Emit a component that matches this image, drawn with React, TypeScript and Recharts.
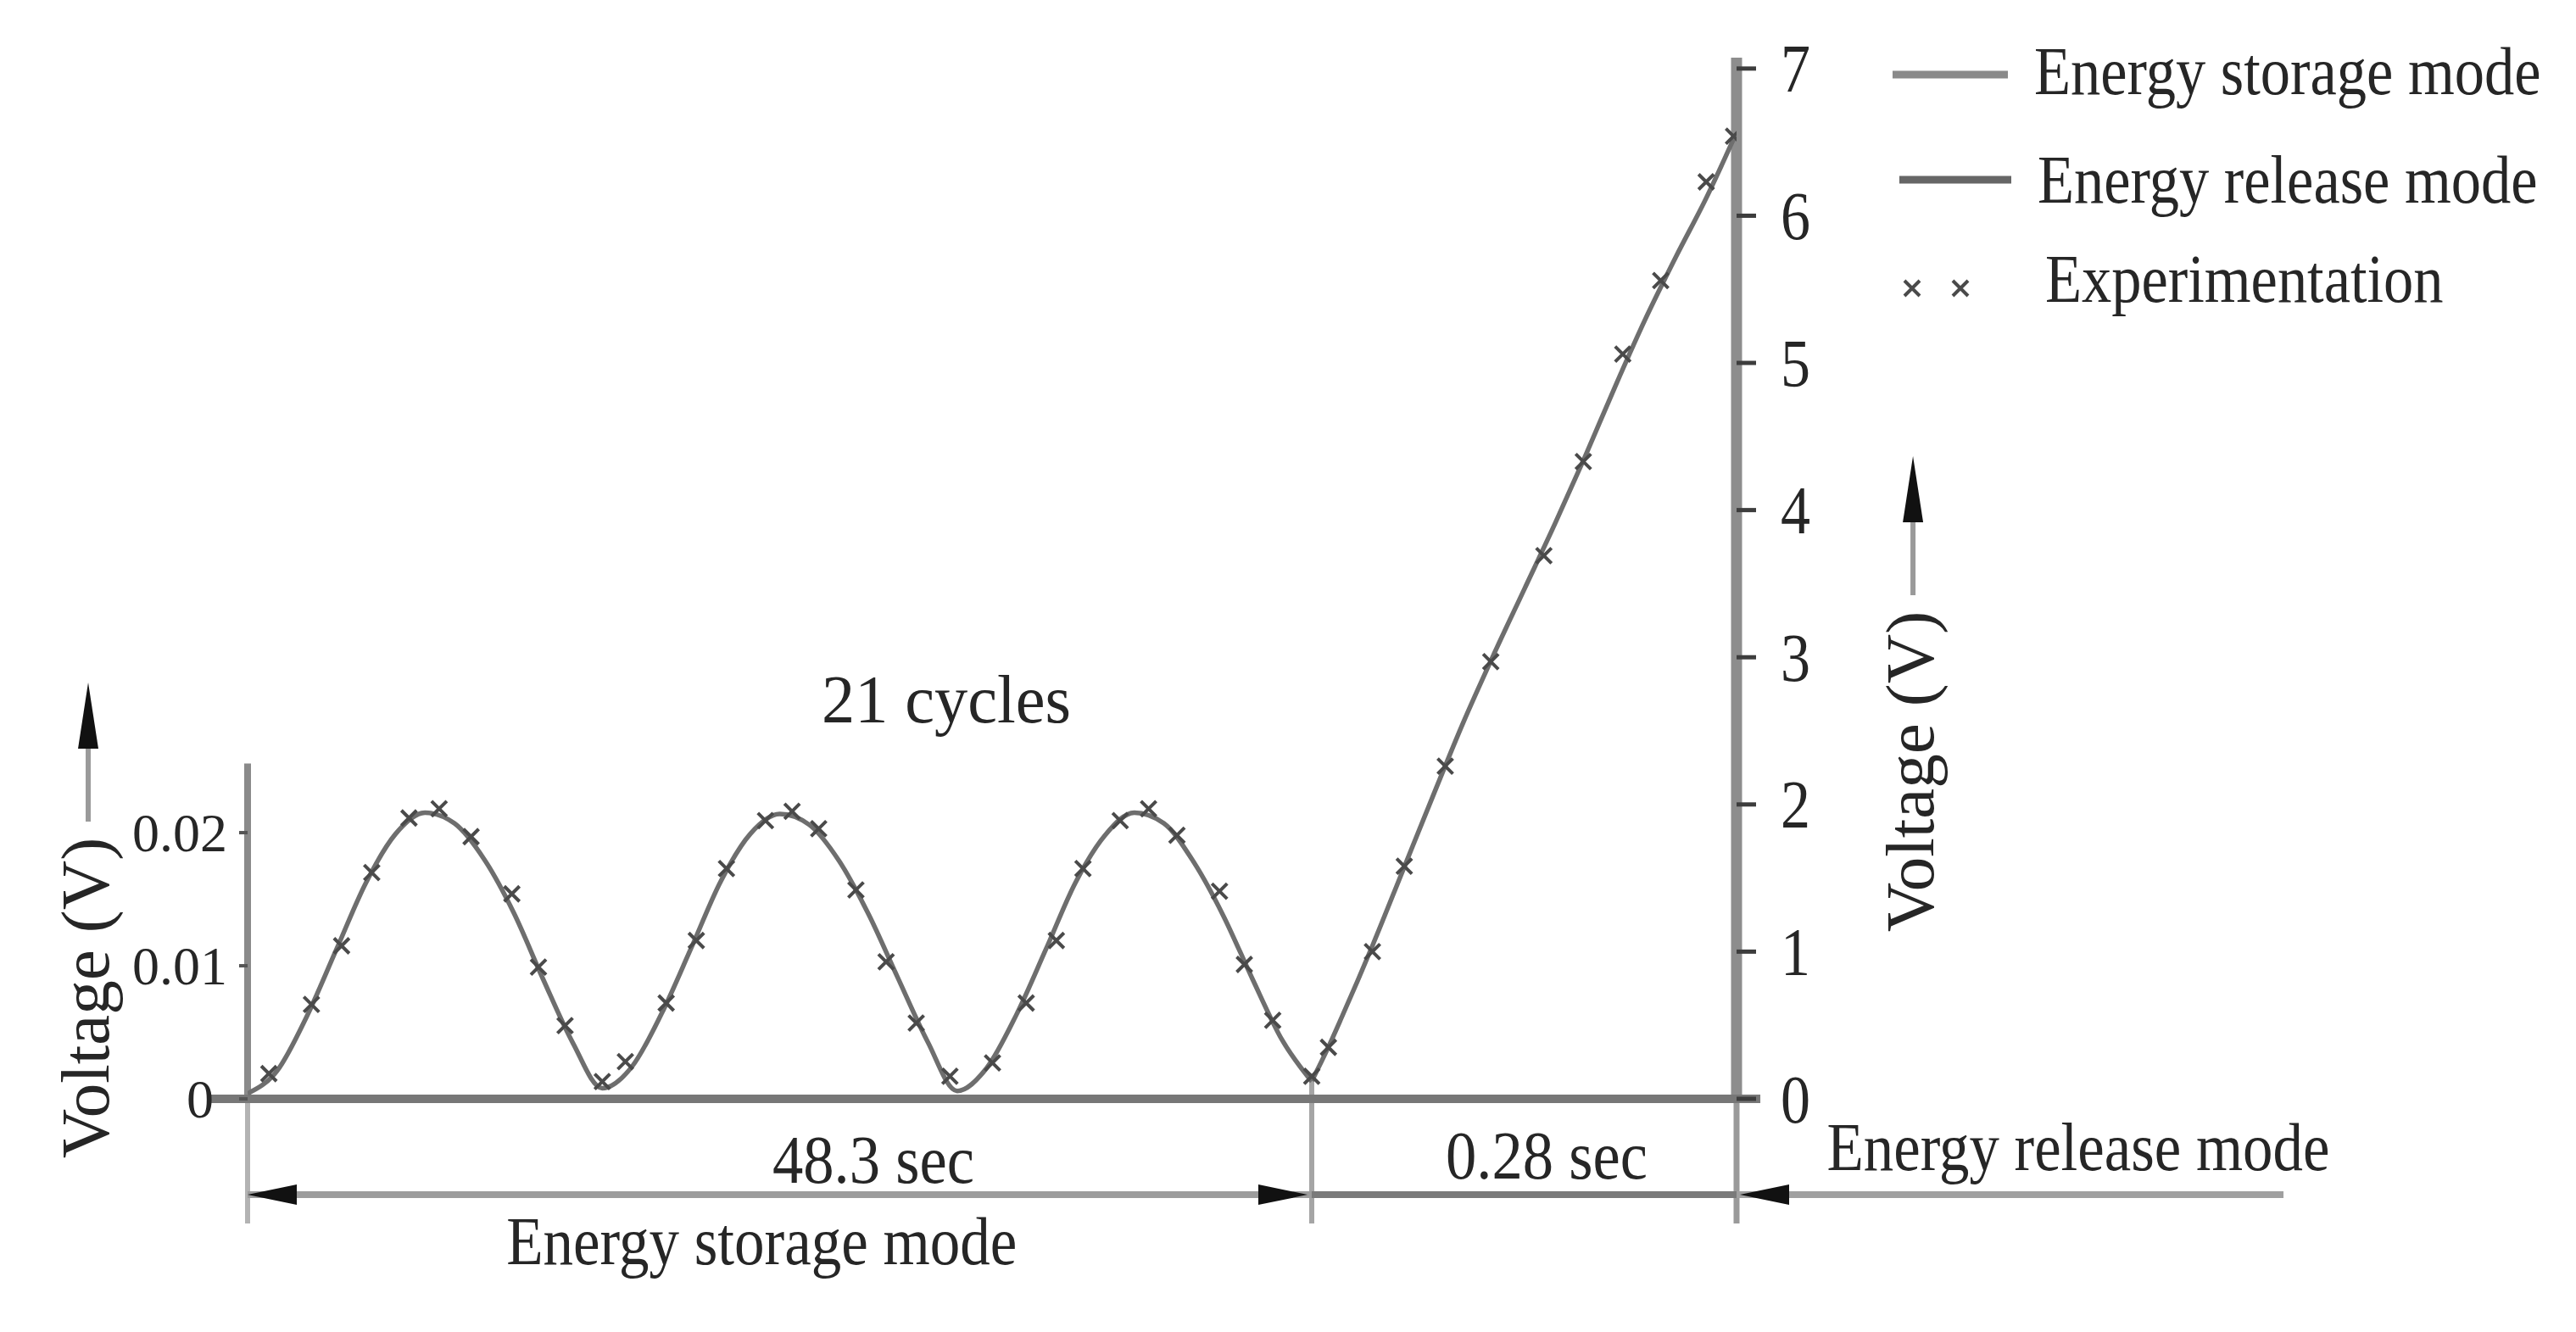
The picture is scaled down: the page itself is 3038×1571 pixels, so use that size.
import { ComposedChart, Line, XAxis, YAxis, ReferenceLine, ReferenceDot, Legend } from 'recharts'

// storage mode: x in drawn cycles (3 of the 21 are shown), y in volts (left axis)
const storageT = [
  0, 0.083, 0.167, 0.25, 0.333, 0.417, 0.5, 0.583, 0.667, 0.75, 0.833, 0.917, 1.0,
  1.083, 1.167, 1.25, 1.333, 1.417, 1.5, 1.583, 1.667, 1.75, 1.833, 1.917, 2.0,
  2.083, 2.167, 2.25, 2.333, 2.417, 2.5, 2.583, 2.667, 2.75, 2.833, 2.917, 3.0,
]
const storageV = [
  0.0004, 0.0021, 0.0062, 0.0112, 0.0162, 0.0199, 0.0215, 0.0207, 0.018, 0.014, 0.009, 0.0042, 0.0008,
  0.0024, 0.0064, 0.0113, 0.0163, 0.0199, 0.0214, 0.0206, 0.0179, 0.0139, 0.0091, 0.0043, 0.0006,
  0.0023, 0.0063, 0.0112, 0.0162, 0.0198, 0.0215, 0.0207, 0.0178, 0.0138, 0.009, 0.0044, 0.0013,
]
const storageExpT = [
  0.06, 0.18, 0.265, 0.35, 0.455, 0.54, 0.63, 0.745, 0.82, 0.895, 1.0,
  1.065, 1.18, 1.265, 1.35, 1.46, 1.535, 1.61, 1.715, 1.8, 1.885, 1.98,
  2.1, 2.195, 2.28, 2.355, 2.46, 2.54, 2.62, 2.74, 2.81, 2.89, 3.0,
]
const storageExpV = [
  0.0019, 0.0071, 0.0115, 0.017, 0.0211, 0.0218, 0.0197, 0.0154, 0.0099, 0.0055, 0.0013,
  0.0028, 0.0072, 0.0119, 0.0173, 0.0209, 0.0216, 0.0203, 0.0157, 0.0103, 0.0057, 0.0017,
  0.0027, 0.0072, 0.0119, 0.0173, 0.0209, 0.0218, 0.0198, 0.0156, 0.0101, 0.0059, 0.0017,
]

// release mode: x in seconds (0.28 s), y in volts (right axis)
const releaseT = [0, 0.01, 0.02, 0.04, 0.06, 0.08, 0.1, 0.12, 0.14, 0.16, 0.18, 0.2, 0.22, 0.24, 0.26, 0.278]
const releaseV = [0.12, 0.33, 0.56, 1.04, 1.55, 2.06, 2.56, 3.02, 3.46, 3.9, 4.36, 4.84, 5.3, 5.72, 6.12, 6.52]
const releaseExpT = [0.011, 0.04, 0.061, 0.088, 0.118, 0.153, 0.179, 0.205, 0.23, 0.26, 0.278]
const releaseExpV = [0.35, 1.0, 1.58, 2.26, 2.97, 3.69, 4.33, 5.06, 5.56, 6.23, 6.54]

const leftTicks = [0, 0.01, 0.02]
const rightTicks = [0, 1, 2, 3, 4, 5, 6, 7]
const legendNames = ['Energy storage mode', 'Energy release mode', 'Experimentation']

const storageLine = storageT.map((x, i) => ({ x, v: storageV[i] }))
const storageExp = storageExpT.map((x, i) => ({ x, v: storageExpV[i] }))
const releaseLine = releaseT.map((x, i) => ({ x, v: releaseV[i] }))
const releaseExp = releaseExpT.map((x, i) => ({ x, v: releaseExpV[i] }))

const SERIF = '"Liberation Serif", "Times New Roman", serif'
const INK = '#262626'
const CURVE = '#6e6e6e'

// axis domains, matched so 3 storage cycles sit left of the 0.28 s release span
const S_DOMAIN = [0, 4.1976]
const R_DOMAIN = [-0.7014, 0.28]
const L_DOMAIN = [-0.00936, 0.07822]
const V_DOMAIN = [-0.847, 7.074]
const DIM_L = -0.0072
const DIM_R = -0.651

function XMark({ cx, cy }: { cx?: number; cy?: number }) {
  if (cx == null || cy == null) return null
  const s = 9
  return (
    <path d={`M${cx - s},${cy - s}L${cx + s},${cy + s}M${cx + s},${cy - s}L${cx - s},${cy + s}`}
      stroke="#4a4a4a" strokeWidth={4} fill="none" />
  )
}

function Arrowhead({ cx, cy, dir }: { cx?: number; cy?: number; dir: number }) {
  if (cx == null || cy == null) return null
  const L = 58, H = 12
  return <polygon points={`${cx},${cy} ${cx - dir * L},${cy - H} ${cx - dir * L},${cy + H}`} fill="#111" />
}

function Caption({ cx, cy, text, w, size = 81 }: { cx?: number; cy?: number; text: string; w: number; size?: number }) {
  if (cx == null || cy == null) return null
  return (
    <text x={cx} y={cy} textAnchor="middle" fontFamily={SERIF} fontSize={size} fill={INK}
      textLength={w} lengthAdjust="spacingAndGlyphs">{text}</text>
  )
}

// the figure's lettering is narrow, so squeeze it sideways
function NarrowText({ x, y, children }: { x: number; y: number; children: string }) {
  return (
    <text transform={`translate(${x} ${y}) scale(0.87 1)`} fontFamily={SERIF} fontSize={81} fill={INK}>{children}</text>
  )
}

// rotated "Voltage (V) ——>" title; cx is the text baseline, cy its middle
function VoltTitle({ cx, cy }: { cx?: number; cy?: number }) {
  if (cx == null || cy == null) return null
  const half = 196, off = -24
  return (
    <g transform={`rotate(-90 ${cx} ${cy})`}>
      <text x={cx} y={cy} textAnchor="middle" fontFamily={SERIF} fontSize={81} fill={INK}>Voltage (V)</text>
      <line x1={cx + half + 12} y1={cy + off} x2={cx + half + 104} y2={cy + off} stroke="#9a9a9a" strokeWidth={6} />
      <polygon points={`${cx + half + 176},${cy + off} ${cx + half + 98},${cy + off - 12} ${cx + half + 98},${cy + off + 12}`} fill="#111" />
    </g>
  )
}

function LeftTick({ x, y, payload }: any) {
  const shift = payload.value === 0 ? -16 : 0
  return (
    <text x={x + shift} y={y} dy="0.34em" textAnchor="end" fontFamily={SERIF} fontSize={64} fill={INK}>
      {payload.value}
    </text>
  )
}

function RightTick({ x, y, payload }: any) {
  return (
    <text x={x} y={y} dy="0.34em" textAnchor="start" fontFamily={SERIF} fontSize={81} fill={INK}
      textLength={35} lengthAdjust="spacingAndGlyphs">{payload.value}</text>
  )
}

function LegendBox() {
  return (
    <svg width={848} height={400} style={{ display: 'block' }}>
      <line x1={42} y1={88} x2={178} y2={88} stroke="#8a8a8a" strokeWidth={9} />
      <NarrowText x={209} y={111}>{legendNames[0]}</NarrowText>
      <line x1={50} y1={212} x2={182} y2={212} stroke="#666" strokeWidth={9} />
      <NarrowText x={213} y={239}>{legendNames[1]}</NarrowText>
      <XMark cx={65} cy={340} />
      <XMark cx={122} cy={340} />
      <NarrowText x={222} y={356}>{legendNames[2]}</NarrowText>
    </svg>
  )
}

export default function App() {
  return (
    <div style={{ position: 'absolute', left: 0, top: 0, background: '#fff' }}>
      <ComposedChart width={3038} height={1571} margin={{ top: 68, right: 790, bottom: 128, left: 92 }}>
        <XAxis xAxisId="s" type="number" dataKey="x" domain={S_DOMAIN} allowDataOverflow hide />
        <XAxis xAxisId="r" type="number" dataKey="x" domain={R_DOMAIN} allowDataOverflow hide />
        <YAxis yAxisId="l" type="number" width={200} domain={L_DOMAIN} allowDataOverflow ticks={leftTicks}
          axisLine={false} tickSize={10} tickMargin={14} tickLine={{ stroke: '#555', strokeWidth: 4 }} tick={<LeftTick />} />
        <YAxis yAxisId="r" orientation="right" type="number" width={200} domain={V_DOMAIN} allowDataOverflow ticks={rightTicks}
          axisLine={false} tickSize={23} tickMargin={29} tickLine={{ stroke: '#3d3d3d', strokeWidth: 5 }} tick={<RightTick />} />

        {/* axes drawn as segments so they stop where the figure stops */}
        <ReferenceLine xAxisId="s" yAxisId="l" ifOverflow="visible" stroke="#8a8a8a" strokeWidth={8}
          segment={[{ x: 0, y: 0 }, { x: 0, y: 0.0252 }]} />
        <ReferenceLine xAxisId="s" yAxisId="l" ifOverflow="visible" stroke="#b3b3b3" strokeWidth={6}
          segment={[{ x: 0, y: 0 }, { x: 0, y: -0.00936 }]} />
        <ReferenceLine xAxisId="s" yAxisId="l" ifOverflow="visible" stroke="#a5a5a5" strokeWidth={6}
          segment={[{ x: 3, y: 0.0013 }, { x: 3, y: -0.00936 }]} />
        <ReferenceLine xAxisId="r" yAxisId="r" ifOverflow="visible" stroke="#8d8d8d" strokeWidth={13}
          segment={[{ x: 0.28, y: 0 }, { x: 0.28, y: 7.074 }]} />
        <ReferenceLine xAxisId="r" yAxisId="r" ifOverflow="visible" stroke="#9a9a9a" strokeWidth={7}
          segment={[{ x: 0.28, y: 0 }, { x: 0.28, y: -0.847 }]} />
        <ReferenceLine xAxisId="s" yAxisId="l" ifOverflow="visible" stroke="#777" strokeWidth={10}
          segment={[{ x: -0.1124, y: 0 }, { x: 4.2646, y: 0 }]} />

        {/* dimension lines */}
        <ReferenceLine xAxisId="s" yAxisId="l" ifOverflow="visible" stroke="#9c9c9c" strokeWidth={8}
          segment={[{ x: 0, y: DIM_L }, { x: 3, y: DIM_L }]} />
        <ReferenceLine xAxisId="r" yAxisId="r" ifOverflow="visible" stroke="#7a7a7a" strokeWidth={8}
          segment={[{ x: 0, y: DIM_R }, { x: 0.28, y: DIM_R }]} />
        <ReferenceLine xAxisId="r" yAxisId="r" ifOverflow="visible" stroke="#a0a0a0" strokeWidth={8}
          segment={[{ x: 0.28, y: DIM_R }, { x: 0.6405, y: DIM_R }]} />

        <Line xAxisId="s" yAxisId="l" data={storageLine} dataKey="v" name={legendNames[0]} type="monotone"
          stroke={CURVE} strokeWidth={5.5} dot={false} activeDot={false} isAnimationActive={false} />
        <Line xAxisId="r" yAxisId="r" data={releaseLine} dataKey="v" name={legendNames[1]} type="monotone"
          stroke={CURVE} strokeWidth={5.5} dot={false} activeDot={false} isAnimationActive={false} />
        <Line xAxisId="s" yAxisId="l" data={storageExp} dataKey="v" name={legendNames[2]} stroke="none"
          dot={(p: any) => <XMark key={`s${p.index}`} cx={p.cx} cy={p.cy} />} activeDot={false} isAnimationActive={false} />
        <Line xAxisId="r" yAxisId="r" data={releaseExp} dataKey="v" stroke="none" legendType="none"
          dot={(p: any) => <XMark key={`r${p.index}`} cx={p.cx} cy={p.cy} />} activeDot={false} isAnimationActive={false} />

        <ReferenceDot xAxisId="s" yAxisId="l" x={0} y={DIM_L} ifOverflow="visible" shape={(p: any) => <Arrowhead cx={p.cx} cy={p.cy} dir={-1} />} />
        <ReferenceDot xAxisId="s" yAxisId="l" x={3} y={DIM_L} ifOverflow="visible" shape={(p: any) => <Arrowhead cx={p.cx - 5} cy={p.cy} dir={1} />} />
        <ReferenceDot xAxisId="r" yAxisId="r" x={0.28} y={DIM_R} ifOverflow="visible" shape={(p: any) => <Arrowhead cx={p.cx + 4} cy={p.cy} dir={-1} />} />

        <ReferenceDot xAxisId="s" yAxisId="l" x={1.97} y={0.0283} ifOverflow="visible" shape={(p: any) => <Caption cx={p.cx} cy={p.cy} text="21 cycles" w={294} />} />
        <ReferenceDot xAxisId="s" yAxisId="l" x={1.764} y={-0.0063} ifOverflow="visible" shape={(p: any) => <Caption cx={p.cx} cy={p.cy} text="48.3 sec" w={238} />} />
        <ReferenceDot xAxisId="s" yAxisId="l" x={1.449} y={-0.01242} ifOverflow="visible" shape={(p: any) => <Caption cx={p.cx} cy={p.cy} text="Energy storage mode" w={602} />} />
        <ReferenceDot xAxisId="r" yAxisId="r" x={0.1548} y={-0.541} ifOverflow="visible" shape={(p: any) => <Caption cx={p.cx} cy={p.cy} text="0.28 sec" w={238} />} />
        <ReferenceDot xAxisId="r" yAxisId="r" x={0.5052} y={-0.484} ifOverflow="visible" shape={(p: any) => <Caption cx={p.cx} cy={p.cy} text="Energy release mode" w={593} />} />

        <ReferenceDot xAxisId="s" yAxisId="l" x={-0.392} y={0.00758} ifOverflow="visible" shape={(p: any) => <VoltTitle cx={p.cx} cy={p.cy} />} />
        <ReferenceDot xAxisId="r" yAxisId="r" x={0.4097} y={2.2235} ifOverflow="visible" shape={(p: any) => <VoltTitle cx={p.cx} cy={p.cy} />} />

        <Legend content={<LegendBox />} layout="horizontal" align="center" verticalAlign="middle"
          wrapperStyle={{ left: 2190, top: 0, width: 848, height: 400 }} />
      </ComposedChart>
    </div>
  )
}
